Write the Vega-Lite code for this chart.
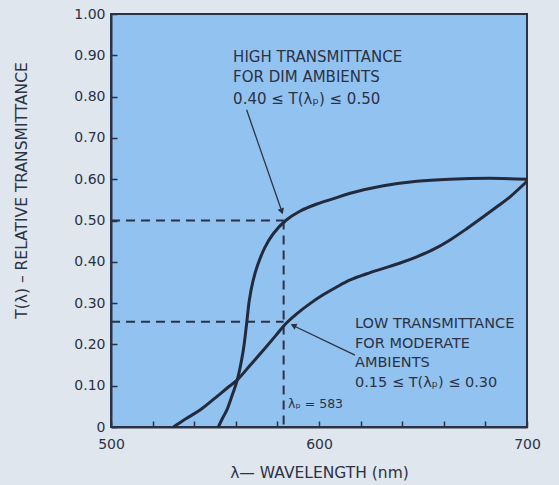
{
  "$schema": "https://vega.github.io/schema/vega-lite/v6.json",
  "width": 416,
  "height": 413,
  "autosize": {"type": "none"},
  "padding": {"left": 111, "top": 14, "right": 32, "bottom": 58},
  "background": "#dfe6ee",
  "config": {
    "view": {"fill": "#92c2f0", "stroke": "#2b3245", "strokeWidth": 2},
    "font": "DejaVu Sans",
    "axis": {
      "domainColor": "#2b3245",
      "domainWidth": 2,
      "tickColor": "#2b3245",
      "tickWidth": 1.5,
      "tickSize": -6,
      "zindex": 1,
      "grid": false,
      "labelColor": "#2b3245",
      "labelFont": "DejaVu Sans",
      "labelFontSize": 14,
      "titleColor": "#2b3245",
      "titleFont": "DejaVu Sans",
      "titleFontWeight": "normal",
      "titleFontSize": 15.5,
      "labelOverlap": false,
      "labelFlush": false
    }
  },
  "datasets": {
    "curves": [
      {"series": "high", "wavelength": 551.6, "t": 0},
      {"series": "high", "wavelength": 553.5, "t": 0.02},
      {"series": "high", "wavelength": 555.6, "t": 0.04},
      {"series": "high", "wavelength": 558, "t": 0.073},
      {"series": "high", "wavelength": 560.7, "t": 0.114},
      {"series": "high", "wavelength": 563.6, "t": 0.186},
      {"series": "high", "wavelength": 565.2, "t": 0.25},
      {"series": "high", "wavelength": 566.5, "t": 0.307},
      {"series": "high", "wavelength": 568.2, "t": 0.352},
      {"series": "high", "wavelength": 570.5, "t": 0.392},
      {"series": "high", "wavelength": 574, "t": 0.435},
      {"series": "high", "wavelength": 578, "t": 0.468},
      {"series": "high", "wavelength": 584, "t": 0.5},
      {"series": "high", "wavelength": 591, "t": 0.523},
      {"series": "high", "wavelength": 599, "t": 0.54},
      {"series": "high", "wavelength": 607, "t": 0.553},
      {"series": "high", "wavelength": 615, "t": 0.566},
      {"series": "high", "wavelength": 631, "t": 0.584},
      {"series": "high", "wavelength": 647, "t": 0.595},
      {"series": "high", "wavelength": 663, "t": 0.6},
      {"series": "high", "wavelength": 682, "t": 0.602},
      {"series": "high", "wavelength": 700, "t": 0.6},
      {"series": "low", "wavelength": 530, "t": 0},
      {"series": "low", "wavelength": 536, "t": 0.02},
      {"series": "low", "wavelength": 542.8, "t": 0.041},
      {"series": "low", "wavelength": 550, "t": 0.07},
      {"series": "low", "wavelength": 556, "t": 0.095},
      {"series": "low", "wavelength": 560.7, "t": 0.114},
      {"series": "low", "wavelength": 567, "t": 0.15},
      {"series": "low", "wavelength": 573.2, "t": 0.186},
      {"series": "low", "wavelength": 579, "t": 0.22},
      {"series": "low", "wavelength": 584, "t": 0.25},
      {"series": "low", "wavelength": 590, "t": 0.277},
      {"series": "low", "wavelength": 596, "t": 0.3},
      {"series": "low", "wavelength": 602, "t": 0.32},
      {"series": "low", "wavelength": 608.5, "t": 0.339},
      {"series": "low", "wavelength": 615, "t": 0.356},
      {"series": "low", "wavelength": 623, "t": 0.371},
      {"series": "low", "wavelength": 631, "t": 0.384},
      {"series": "low", "wavelength": 639, "t": 0.397},
      {"series": "low", "wavelength": 647, "t": 0.412},
      {"series": "low", "wavelength": 655, "t": 0.43},
      {"series": "low", "wavelength": 663, "t": 0.453},
      {"series": "low", "wavelength": 671, "t": 0.48},
      {"series": "low", "wavelength": 679, "t": 0.509},
      {"series": "low", "wavelength": 686, "t": 0.535},
      {"series": "low", "wavelength": 692, "t": 0.558},
      {"series": "low", "wavelength": 700, "t": 0.595}
    ],
    "guides": [
      {"wavelength": 500, "t": 0.5, "wavelength2": 583, "t2": 0.5},
      {"wavelength": 500, "t": 0.255, "wavelength2": 583, "t2": 0.255},
      {"wavelength": 583, "t": 0.5, "wavelength2": 583, "t2": 0}
    ],
    "arrowsHigh": [
      {"wavelength": 565.2, "t": 0.768, "wavelength2": 582.4, "t2": 0.518}
    ],
    "headHigh": [{"wavelength": 582.1, "t": 0.522}],
    "arrowsLow": [
      {"wavelength": 617.3, "t": 0.174, "wavelength2": 587, "t2": 0.247}
    ],
    "headLow": [{"wavelength": 587.7, "t": 0.2458}],
    "notesHigh": [
      {"wavelength": 558.7, "t": 0.884, "text": "HIGH TRANSMITTANCE"},
      {"wavelength": 558.7, "t": 0.835, "text": "FOR DIM AMBIENTS"},
      {"wavelength": 558.7, "t": 0.782, "text": "0.40 ≤ T(λₚ) ≤ 0.50"}
    ],
    "notesLow": [
      {"wavelength": 617.3, "t": 0.24, "text": "LOW TRANSMITTANCE"},
      {"wavelength": 617.3, "t": 0.191, "text": "FOR MODERATE"},
      {"wavelength": 617.3, "t": 0.145, "text": "AMBIENTS"},
      {"wavelength": 617.3, "t": 0.097, "text": "0.15 ≤ T(λₚ) ≤ 0.30"}
    ],
    "peak": [{"wavelength": 585.1, "t": 0.046, "text": "λₚ = 583"}]
  },
  "layer": [
    {
      "data": {"name": "guides"},
      "mark": {"type": "rule", "color": "#2b3245", "strokeWidth": 2, "strokeDash": [9, 6]},
      "encoding": {
        "x": {
          "field": "wavelength", "type": "quantitative",
          "scale": {"domain": [500, 700], "nice": false, "zero": false},
          "axis": {
            "title": "λ— WAVELENGTH (nm)",
            "values": [500,510,520,530,540,550,560,570,580,590,600,610,620,630,640,650,660,670,680,690,700],
            "labelExpr": "datum.value % 50 == 0 ? datum.label : ''",
            "labelPadding": 16,
            "titlePadding": 14
          }
        },
        "y": {
          "field": "t", "type": "quantitative",
          "scale": {"domain": [0, 1], "nice": false},
          "axis": {
            "title": "T(λ) – RELATIVE TRANSMITTANCE",
            "values": [0,0.05,0.1,0.15,0.2,0.25,0.3,0.35,0.4,0.45,0.5,0.55,0.6,0.65,0.7,0.75,0.8,0.85,0.9,0.95,1],
            "labelExpr": "datum.value == 0 ? '0' : (round(datum.value * 100) % 10 == 0 ? format(datum.value, '.2f') : '')",
            "labelPadding": 12,
            "titleX": -82,
            "titleY": 176
          }
        },
        "x2": {"field": "wavelength2"},
        "y2": {"field": "t2"}
      }
    },
    {
      "data": {"name": "curves"},
      "mark": {"type": "line", "color": "#232a3c", "strokeWidth": 3, "interpolate": "catmull-rom"},
      "encoding": {
        "x": {"field": "wavelength", "type": "quantitative"},
        "y": {"field": "t", "type": "quantitative"},
        "detail": {"field": "series"}
      }
    },
    {
      "data": {"name": "arrowsHigh"},
      "mark": {"type": "rule", "color": "#2b3245", "strokeWidth": 1.3},
      "encoding": {
        "x": {"field": "wavelength", "type": "quantitative"},
        "y": {"field": "t", "type": "quantitative"},
        "x2": {"field": "wavelength2"},
        "y2": {"field": "t2"}
      }
    },
    {
      "data": {"name": "headHigh"},
      "mark": {"type": "point", "shape": "triangle-up", "filled": true, "color": "#2b3245", "opacity": 1, "size": 45, "angle": 160.6},
      "encoding": {
        "x": {"field": "wavelength", "type": "quantitative"},
        "y": {"field": "t", "type": "quantitative"}
      }
    },
    {
      "data": {"name": "arrowsLow"},
      "mark": {"type": "rule", "color": "#2b3245", "strokeWidth": 1.3},
      "encoding": {
        "x": {"field": "wavelength", "type": "quantitative"},
        "y": {"field": "t", "type": "quantitative"},
        "x2": {"field": "wavelength2"},
        "y2": {"field": "t2"}
      }
    },
    {
      "data": {"name": "headLow"},
      "mark": {"type": "point", "shape": "triangle-up", "filled": true, "color": "#2b3245", "opacity": 1, "size": 45, "angle": 295.7},
      "encoding": {
        "x": {"field": "wavelength", "type": "quantitative"},
        "y": {"field": "t", "type": "quantitative"}
      }
    },
    {
      "data": {"name": "notesHigh"},
      "mark": {"type": "text", "align": "left", "baseline": "alphabetic", "fontSize": 15, "color": "#2b3245", "font": "DejaVu Sans"},
      "encoding": {
        "x": {"field": "wavelength", "type": "quantitative"},
        "y": {"field": "t", "type": "quantitative"},
        "text": {"field": "text"}
      }
    },
    {
      "data": {"name": "notesLow"},
      "mark": {"type": "text", "align": "left", "baseline": "alphabetic", "fontSize": 14.5, "color": "#2b3245", "font": "DejaVu Sans"},
      "encoding": {
        "x": {"field": "wavelength", "type": "quantitative"},
        "y": {"field": "t", "type": "quantitative"},
        "text": {"field": "text"}
      }
    },
    {
      "data": {"name": "peak"},
      "mark": {"type": "text", "align": "left", "baseline": "alphabetic", "fontSize": 12.5, "color": "#2b3245", "font": "DejaVu Sans"},
      "encoding": {
        "x": {"field": "wavelength", "type": "quantitative"},
        "y": {"field": "t", "type": "quantitative"},
        "text": {"field": "text"}
      }
    }
  ]
}
